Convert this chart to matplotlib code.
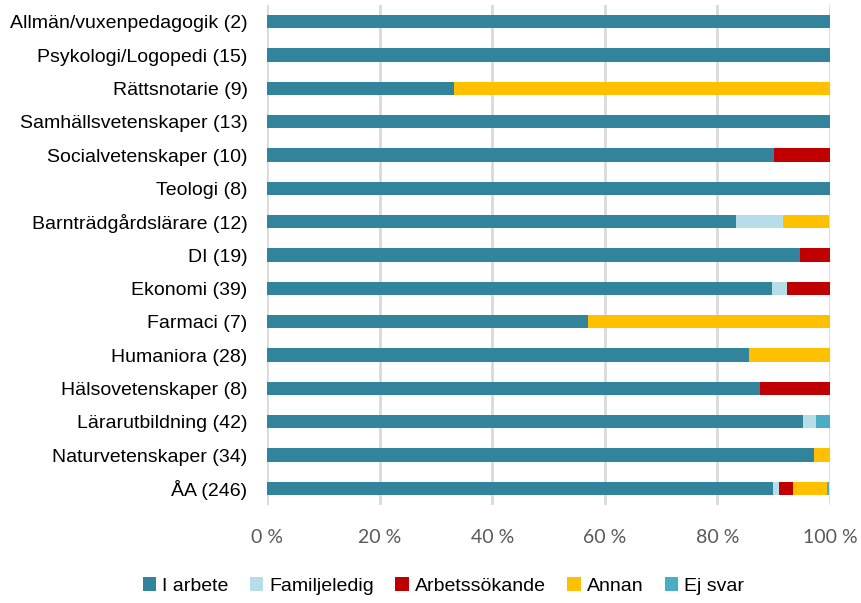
import matplotlib
matplotlib.use("Agg")
import matplotlib.pyplot as plt
from matplotlib.ticker import FuncFormatter

plt.rcParams["font.family"] = ["Liberation Sans", "DejaVu Sans"]

kategorier = [
    "Allmän/vuxenpedagogik (2)", "Psykologi/Logopedi (15)", "Rättsnotarie (9)",
    "Samhällsvetenskaper (13)", "Socialvetenskaper (10)", "Teologi (8)",
    "Barnträdgårdslärare (12)", "DI (19)", "Ekonomi (39)", "Farmaci (7)",
    "Humaniora (28)", "Hälsovetenskaper (8)", "Lärarutbildning (42)",
    "Naturvetenskaper (34)", "ÅA (246)",
]
serier = ["I arbete", "Familjeledig", "Arbetssökande", "Annan", "Ej svar"]
i_arbete = [100, 100, 33.3, 100, 90.0, 100, 83.3, 94.7, 89.7, 57.1, 85.7, 87.5, 95.2, 97.1, 89.8]
familjeledig = [0, 0, 0, 0, 0, 0, 8.3, 0, 2.6, 0, 0, 0, 2.4, 0, 1.2]
arbetssokande = [0, 0, 0, 0, 10.0, 0, 0, 5.3, 7.7, 0, 0, 12.5, 0, 0, 2.4]
annan = [0, 0, 66.7, 0, 0, 0, 8.3, 0, 0, 42.9, 14.3, 0, 0, 2.9, 6.1]
ej_svar = [0, 0, 0, 0, 0, 0, 0, 0, 0, 0, 0, 0, 2.4, 0, 0.4]
farger = ["#31849B", "#B7DEE8", "#C00000", "#FFC000", "#4BACC6"]

fig = plt.figure(figsize=(8.61, 6.03), dpi=100)
ax = fig.add_axes([267 / 861, 1 - 505 / 603, 563 / 861, 500 / 603])

y = list(range(len(kategorier)))
vanster = [0.0] * len(kategorier)
for namn, varden, farg in zip(serier, [i_arbete, familjeledig, arbetssokande, annan, ej_svar], farger):
    ax.barh(y, varden, left=vanster, height=0.4, color=farg, label=namn, zorder=3)
    vanster = [a + b for a, b in zip(vanster, varden)]

ax.set_ylim(len(kategorier) - 0.5, -0.5)
ax.set_xlim(0, 100)
ax.set_yticks(y)
ax.set_yticklabels(kategorier, fontsize=14)
ax.set_xticks([0, 20, 40, 60, 80, 100])
ax.xaxis.set_major_formatter(FuncFormatter(lambda v, _: f"{v:.0f} %"))
ax.tick_params(axis="x", colors="#595959", labelsize=14, length=0, pad=17)
for t in ax.get_xticklabels():
    t.set_family(["Lato", "DejaVu Sans"])
ax.tick_params(axis="y", length=0, pad=14)
ax.grid(axis="x", color="#D9D9D9", linewidth=2, zorder=0)
for s in ax.spines.values():
    s.set_visible(False)

fig.legend(loc="lower center", bbox_to_anchor=(0.515, -0.015), ncol=5, fontsize=14,
           frameon=False, handlelength=0.7, handleheight=0.7, handletextpad=0.3,
           columnspacing=1.1)

fig.savefig("out.png", dpi=100)
